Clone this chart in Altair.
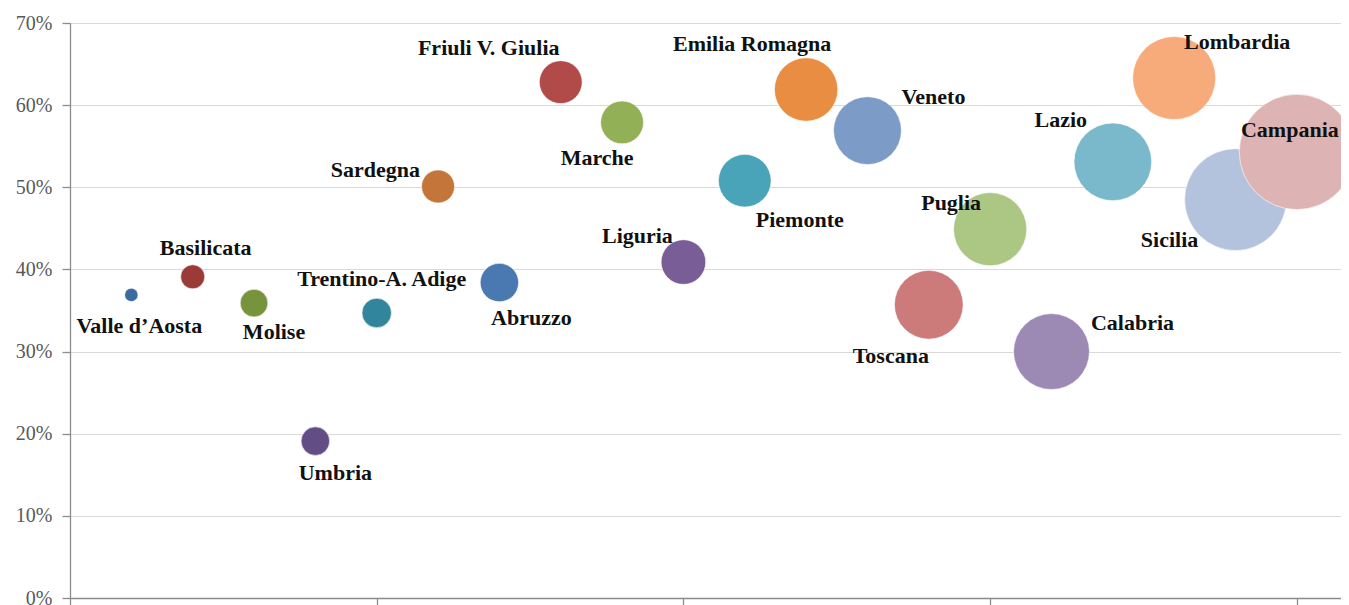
import altair as alt
import pandas as pd

# ---- data ----
regions = ["Valle d'Aosta", "Basilicata", "Molise", "Umbria", "Trentino-A. Adige",
           "Sardegna", "Abruzzo", "Friuli V. Giulia", "Marche", "Liguria",
           "Piemonte", "Emilia Romagna", "Veneto", "Toscana", "Puglia",
           "Calabria", "Lazio", "Lombardia", "Sicilia", "Campania"]
labels = ["Valle d\u2019Aosta", "Basilicata", "Molise", "Umbria", "Trentino-A. Adige",
          "Sardegna", "Abruzzo", "Friuli V. Giulia", "Marche", "Liguria",
          "Piemonte", "Emilia Romagna", "Veneto", "Toscana", "Puglia",
          "Calabria", "Lazio", "Lombardia", "Sicilia", "Campania"]
rank = list(range(1, 21))
share = [0.369, 0.391, 0.359, 0.191, 0.347, 0.501, 0.384, 0.628, 0.579, 0.409,
         0.508, 0.619, 0.569, 0.357, 0.449, 0.300, 0.531, 0.633, 0.485, 0.543]
bubble = [56, 182, 240, 256, 272, 342, 462, 576, 576, 625,
          870, 1260, 1444, 1482, 1681, 1806, 1892, 2162, 3249, 4160]
colors = ["#3d6aa1", "#9a3b38", "#77933c", "#624e85", "#31859c",
          "#c4763a", "#4a78b0", "#b14b49", "#92b056", "#795d96",
          "#49a3b9", "#e98d42", "#7c9bc7", "#cc7a7a", "#acc684",
          "#9c8ab5", "#7ab8cc", "#f7aa7a", "#b4c3dd", "#ddb3b3"]

# label placement relative to bubble centre (pixels)
label_dx = [8, 13, 20, 20, 5, -18, 32, -72, -25, -46,
            55, -54, 66, -38, -39, 81, -52, 63, -66, -7]
label_dy = [31, -29, 29, 32, -34, -16, 35, -34, 36, -26,
            39, -46, -34, 51, -26, -29, -42, -36, 40, -22]
label_align = ["center"] * 20
label_align[5] = "right"

# ---- layout ----
PX_PER_UNIT = 1279 / 20.85
W, H = 1271, 575
XMAX, YMAX = W / PX_PER_UNIT, 0.70
RMAX = 65

df = pd.DataFrame({
    "region": regions, "label": labels, "rank": rank, "share": share,
    "bubble": bubble, "dx": label_dx, "dy": label_dy, "align": label_align,
})

xs = alt.Scale(domain=[0, XMAX], nice=False, zero=True)
ys = alt.Scale(domain=[0, YMAX], nice=False)

base = alt.Chart(df)

bubbles = base.mark_circle(opacity=1, stroke="white", strokeWidth=0.6).encode(
    x=alt.X("rank:Q", scale=xs,
            axis=alt.Axis(values=[0, 5, 10, 15, 20], labels=False, title=None,
                          grid=False, tickSize=7, tickColor="#8c8c8c",
                          domainColor="#8c8c8c", domainWidth=1.3, tickWidth=1.3)),
    y=alt.Y("share:Q", scale=ys,
            axis=alt.Axis(format=".0%", values=[0, .1, .2, .3, .4, .5, .6, .7],
                          title=None, grid=True, gridColor="#d9d9d9", gridWidth=1.2,
                          tickSize=8, tickColor="#8c8c8c", domainColor="#8c8c8c",
                          domainWidth=1.3, tickWidth=1.3,
                          labelFont="Liberation Serif", labelFontSize=20,
                          labelColor="#595959", labelPadding=10,
                          minExtent=57, maxExtent=57)),
    size=alt.Size("bubble:Q", scale=alt.Scale(domain=[0, max(bubble)],
                                              range=[0, 3.14159 * RMAX * RMAX]),
                  legend=None),
    color=alt.Color("region:N", scale=alt.Scale(domain=regions, range=colors),
                    legend=None),
)

def text_layer(align):
    return base.transform_filter(alt.datum.align == align).transform_calculate(
        lx=f"datum.rank + datum.dx / {PX_PER_UNIT}",
        ly=f"datum.share - datum.dy * {YMAX} / {H}",
    ).mark_text(font="Liberation Serif", fontWeight="bold", fontSize=22,
                color="#111111", align=align, baseline="middle").encode(
        x=alt.X("lx:Q", scale=xs),
        y=alt.Y("ly:Q", scale=ys),
        text="label:N",
    )

chart = alt.layer(bubbles, text_layer("center"), text_layer("right")).properties(
    width=W, height=H,
    autosize=alt.AutoSizeParams(type="none"),
    padding={"left": 62, "top": 15, "right": 0, "bottom": 7},
).configure_view(stroke=None).configure(background="white")

chart.save("out.html", embed_options={"renderer": "svg", "actions": False})
